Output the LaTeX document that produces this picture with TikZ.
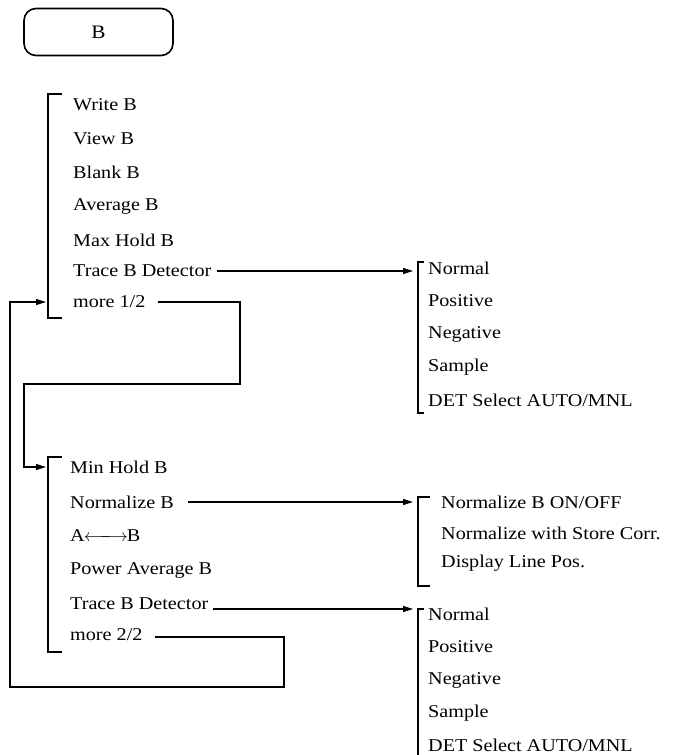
\documentclass[tikz,border=0pt]{standalone}
\usepackage{fontspec}
\setmainfont[FakeStretch=1.12]{Liberation Serif}
\usetikzlibrary{arrows.meta}
\begin{document}
\begin{tikzpicture}[x=1pt,y=-1pt,
  item/.style={anchor=west,inner sep=0pt,font=\fontsize{18}{20}\selectfont},
  brk/.style={line width=1.4pt},
  conn/.style={line width=1.1pt,-{Triangle[length=10pt,width=6pt]}},
  line/.style={line width=1.1pt}]
\useasboundingbox (0,0) rectangle (685,755);
% top box
\node[draw,line width=1.6pt,rounded corners=12pt,minimum width=149pt,minimum height=47pt,font=\fontsize{19}{21}\selectfont] (top) at (98.5,32) {B};
% menu 1
\draw[brk] (62,94) -- (48,94) -- (48,318) -- (62,318);
\node[item] (m1) at (73,105) {Write B};
\node[item] (m2) at (73,139) {View B};
\node[item] (m3) at (73,172) {Blank B};
\node[item] (m4) at (73,206) {Average B};
\node[item] (m5) at (73,240) {Max Hold B};
\node[item] (m6) at (73,271) {Trace B Detector};
\node[item] (m7) at (73,302) {more 1/2};
% submenu 1
\draw[brk] (424,262) -- (418,262) -- (418,413) -- (424,413);
\node[item] (d1) at (428,268) {Normal};
\node[item] (d2) at (428,301) {Positive};
\node[item] (d3) at (428,334) {Negative};
\node[item] (d4) at (428,367) {Sample};
\node[item] (d5) at (428,400) {DET Select AUTO/MNL};
% menu 2
\draw[brk] (62,457) -- (48,457) -- (48,652) -- (62,652);
\node[item] (n1) at (70,467) {Min Hold B};
\node[item] (n2) at (70,502) {Normalize B};
\node[item] (n3) at (70,536) {A\kern-1pt$\longleftarrow\mkern-12mu\longrightarrow$\kern-1pt B};
\node[item] (n4) at (70,570) {Power Average B};
\node[item] (n5) at (70,604) {Trace B Detector};
\node[item] (n6) at (70,635) {more 2/2};
% submenu normalize
\draw[brk] (430,497) -- (418,497) -- (418,586) -- (430,586);
\node[item] (s1) at (441,502) {Normalize B ON/OFF};
\node[item] (s2) at (441,533) {Normalize with Store Corr.};
\node[item] (s3) at (441,563) {Display Line Pos.};
% submenu 2
\draw[brk] (424,609) -- (418,609) -- (418,755);
\node[item] (e1) at (428,614) {Normal};
\node[item] (e2) at (428,647) {Positive};
\node[item] (e3) at (428,680) {Negative};
\node[item] (e4) at (428,713) {Sample};
\node[item] (e5) at (428,745) {DET Select AUTO/MNL};
% connectors
\coordinate (t1) at (413,271);
\coordinate (t2) at (413,502);
\coordinate (t3) at (413,609);
\draw[conn] (m6.east)++(6,0) -- (t1);
\draw[conn] (n2.east)++(14,0) -- (t2);
\draw[conn] (n5.east)++(5,5) -- (t3);
\coordinate (a1) at (46,302);
\coordinate (a2) at (46,467);
\draw[line,-{Triangle[length=10pt,width=6pt]}] (m7.east)++(12,0) -- (240,302) -- (240,384) -- (24,384) -- (24,467) -- (a2);
\draw[line,-{Triangle[length=10pt,width=6pt]}] (n6.east)++(12,2) -- (284,637) -- (284,687) -- (10,687) -- (10,302) -- (a1);
\end{tikzpicture}
\end{document}
